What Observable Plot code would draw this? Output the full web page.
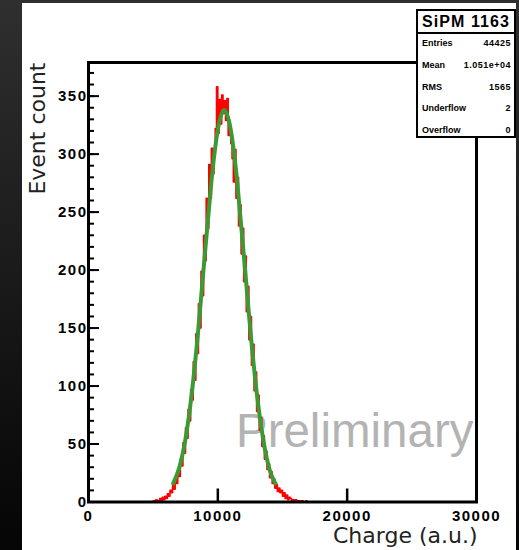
<!DOCTYPE html>
<html>
<head>
<meta charset="utf-8">
<script src="https://cdn.jsdelivr.net/npm/d3@7"></script>
<script src="https://cdn.jsdelivr.net/npm/@observablehq/plot@0.6"></script>
<style>
  html, body { margin: 0; padding: 0; }
  body { width: 519px; height: 550px; position: relative; overflow: hidden;
         background: linear-gradient(to bottom, #2f2f2f, #050505); }
  #panel { position: absolute; left: 22px; top: 3px; width: 494px; height: 547px; background: #fff; }
  #chart { position: absolute; left: 0; top: 0; }
  #chart g[aria-label$="tick label"] text { letter-spacing: 1.5px; }
  #stats { position: absolute; left: 416px; top: 9px; width: 96px; height: 125px;
           border: 2.5px solid #000; background: #fff; font-family: "Liberation Sans", Arial, sans-serif;
           font-weight: bold; color: #000; }
  #stats .hdr { position: absolute; left: 0; top: 0; width: 96px; height: 21px; border-bottom: 2.5px solid #000;
                font-size: 16px; letter-spacing: 1.1px; text-align: center; line-height: 22px; }
  #stats .row { position: absolute; left: 4px; width: 89px; height: 12px; font-size: 9px; line-height: 12px; }
  #stats .row .k { position: absolute; left: 0; top: 0; }
  #stats .row .v { position: absolute; right: 0; top: 0; letter-spacing: 0.5px; }
</style>
</head>
<body>
<div id="panel"></div>
<div id="chart"></div>
<div id="stats"></div>
<script>
// ---- Data ----
const histTitle = "SiPM 1163";
const statNames = ["Entries", "Mean", "RMS", "Underflow", "Overflow"];
const statValues = ["44425", "1.051e+04", "1565", "2", "0"];

// histogram: lower bin edges (charge, a.u.) and counts
const histEdges = d3.range(5000, 17100, 100);
const histCounts = [
  1, 0, 2, 0, 1, 3, 1, 4, 2, 5,
  3, 7, 5, 10, 8, 14, 11, 19, 16, 27,
  22, 37, 31, 51, 42, 64, 55, 80, 70, 97,
  88, 121, 105, 145, 128, 171, 150, 199, 178, 230,
  208, 262, 236, 291, 262, 305, 283, 300, 322, 358,
  318, 347, 326, 351, 335, 346, 329, 348, 316, 322,
  309, 296, 276, 304, 262, 280, 238, 256, 214, 236,
  190, 212, 164, 186, 140, 160, 118, 136, 96, 112,
  78, 92, 62, 73, 48, 57, 37, 44, 28, 33,
  21, 26, 16, 20, 12, 15, 9, 12, 8, 10,
  5, 8, 3, 6, 2, 4, 3, 1, 2, 1,
  2, 0, 1, 1, 0, 1, 0, 0, 1, 0,
  0
];

// Gaussian fit curve
const fitCharge = [6550, 7000, 7500, 8000, 8500, 9000, 9500, 10000, 10500, 11000, 11500, 12000, 12500, 13000, 13500, 14000, 14450];
const fitCounts = [16, 29, 54.5, 95, 150, 214, 276, 321, 338, 321, 276, 214, 150, 95, 54.5, 28, 16];

const yMajor = [0, 50, 100, 150, 200, 250, 300, 350];
const yMinor = d3.range(0, 380, 10);
const xMajor = [0, 10000, 20000, 30000];

// ---- Build tables ----
const hist = histEdges.map((e, i) => ({x: e, y: histCounts[i]}));
hist.push({x: histEdges[histEdges.length - 1] + 100, y: 0});
const fit = fitCharge.map((c, i) => ({x: c, y: fitCounts[i]}));

const tickFont = {fontSize: 15, fontWeight: "bold", fill: "#000", tickFormat: d => String(d)};

const chart = Plot.plot({
  width: 519,
  height: 550,
  marginLeft: 88,
  marginRight: 43,
  marginTop: 62,
  marginBottom: 48.5,
  x: {domain: [0, 30000], label: null},
  y: {domain: [0, 379], label: null},
  style: {background: "transparent", fontFamily: "'Liberation Sans', Arial, sans-serif", color: "#000"},
  marks: [
    Plot.text(["Preliminary"], {frameAnchor: "bottom-right", text: d => d, dx: -3, dy: -70,
      textAnchor: "end", lineAnchor: "middle", fontSize: 47.5, fill: "#b3b3b3"}),
    Plot.line(hist, {x: "x", y: "y", curve: "step-after", stroke: "#ff0000", strokeWidth: 1.6}),
    Plot.line(fit, {x: "x", y: "y", curve: "natural", stroke: "#3a9b35", strokeWidth: 4}),
    Plot.frame({stroke: "#000", strokeWidth: 3}),
    Plot.axisY({ticks: yMinor, tickSize: -6, text: null, strokeWidth: 2}),
    Plot.axisY({ticks: yMajor, tickSize: -11, text: null, strokeWidth: 2}),
    Plot.axisY({ticks: yMajor, tickSize: 0, tickPadding: 1, ...tickFont}),
    Plot.axisX({ticks: xMajor, tickSize: -13, text: null, strokeWidth: 2.5}),
    Plot.axisX({ticks: xMajor, tickSize: 0, tickPadding: 8, ...tickFont}),
    Plot.text(["Event count"], {frameAnchor: "top-left", text: d => d, dx: -51, dy: 0,
      rotate: -90, textAnchor: "end", lineAnchor: "middle", fontFamily: "DejaVu Sans", fontSize: 22, fill: "#222"}),
    Plot.text(["Charge (a.u.)"], {frameAnchor: "bottom-right", text: d => d, dx: 1, dy: 34,
      textAnchor: "end", lineAnchor: "middle", fontFamily: "DejaVu Sans", fontSize: 22, fill: "#222"})
  ]
});
document.getElementById("chart").appendChild(chart);

// ---- Stats box ----
const stats = document.getElementById("stats");
const hdr = document.createElement("div");
hdr.className = "hdr";
hdr.textContent = histTitle;
stats.appendChild(hdr);
const rowTops = [26, 48, 69.5, 91, 112.5];
statNames.forEach((n, i) => {
  const r = document.createElement("div");
  r.className = "row";
  r.style.top = rowTops[i] + "px";
  const k = document.createElement("span");
  k.className = "k"; k.textContent = n;
  r.appendChild(k);
  const v = document.createElement("span");
  v.className = "v"; v.textContent = statValues[i];
  r.appendChild(v);
  stats.appendChild(r);
});
</script>
</body>
</html>
